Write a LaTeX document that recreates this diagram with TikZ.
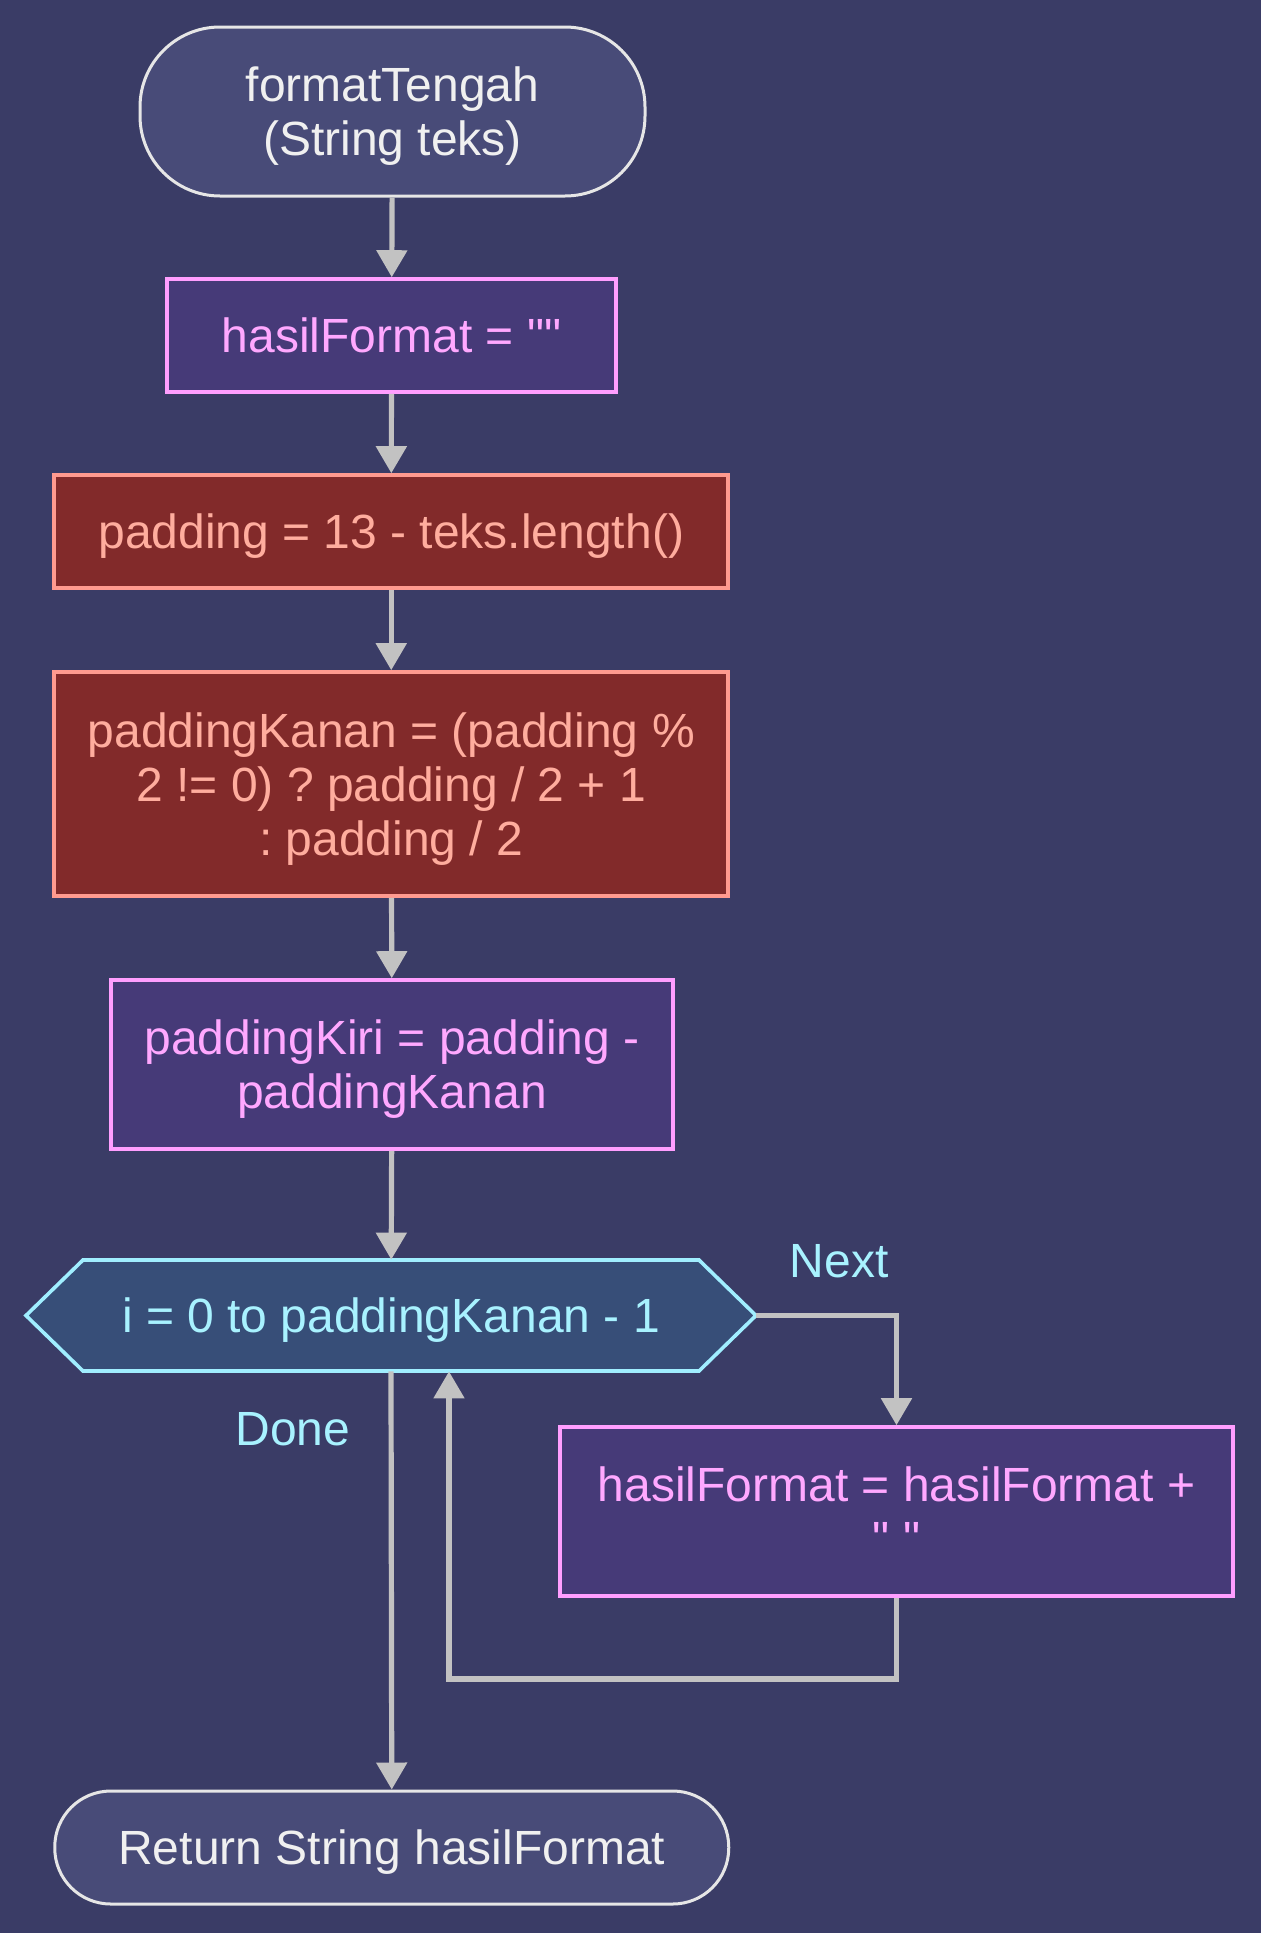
\documentclass[tikz,border=0pt]{standalone}
\usepackage{fontspec}
\setmainfont{Liberation Sans}[Ligatures=TeXOff]
\usetikzlibrary{arrows.meta}
\definecolor{bgc}{HTML}{3A3C66}
\definecolor{termfill}{HTML}{484B78}
\definecolor{termdraw}{HTML}{E6E6E6}
\definecolor{termtext}{HTML}{F0F0F0}
\definecolor{procfill}{HTML}{463A78}
\definecolor{procdraw}{HTML}{FF9EFF}
\definecolor{proctext}{HTML}{FFA8FF}
\definecolor{redfill}{HTML}{822A2A}
\definecolor{reddraw}{HTML}{FF9A8F}
\definecolor{redtext}{HTML}{FFAD9E}
\definecolor{hexfill}{HTML}{374E78}
\definecolor{hexdraw}{HTML}{A0EEFF}
\definecolor{hextext}{HTML}{A8F2FF}
\definecolor{arrowc}{HTML}{C2C2C2}
\begin{document}
\frenchspacing
\begin{tikzpicture}[x=0.5pt,y=-0.5pt,
  every node/.style={font=\fontsize{24pt}{27pt}\selectfont\frenchspacing, align=center, inner sep=0pt, text depth=0pt},
  term/.style={draw=termdraw, fill=termfill, text=termtext, line width=1.5pt, rounded corners=40pt},
  proc/.style={draw=procdraw, fill=procfill, text=proctext, line width=1.8pt},
  redbox/.style={draw=reddraw, fill=redfill, text=redtext, line width=1.8pt},
  flow/.style={draw=arrowc, line width=2.6pt, -{Triangle[width=15pt,length=13.5pt]}},
  lbl/.style={text=hextext}
]
\fill[bgc] (0,0) rectangle (1261,1933);
\useasboundingbox (0,0) rectangle (1261,1933);

\node[term, minimum width=252.5pt, minimum height=84.5pt] (start) at (392.5,111.5) {formatTengah\\(String teks)};
\node[proc, minimum width=224.5pt, minimum height=56.5pt] (init) at (391.5,335.5) {hasilFormat = ""};
\node[redbox, minimum width=337pt, minimum height=56.5pt] (pad) at (391.25,531.5) {padding = 13 - teks.length()};
\node[redbox, minimum width=337pt, minimum height=112pt] (kanan) at (391.25,784) {paddingKanan = (padding \%\\2 != 0) ? padding / 2 + 1\\: padding / 2};
\node[proc, minimum width=281pt, minimum height=84.5pt] (kiri) at (392,1064.5) {paddingKiri = padding -\\paddingKanan};

% hexagon loop node
\filldraw[draw=hexdraw, fill=hexfill, line width=1.8pt] (26,1315.5) -- (83,1260) -- (699,1260) -- (756,1315.5) -- (699,1371) -- (83,1371) -- cycle;
\node[text=hextext, minimum width=365pt, minimum height=55.5pt] (hex) at (391,1315.5) {i = 0 to paddingKanan - 1};
\coordinate (hexR) at (756,1315.5);

\node[proc, minimum width=336.5pt, minimum height=84.5pt] (loop) at (896.5,1511.5) {hasilFormat = hasilFormat +\\" "};
\node[term, rounded corners=28pt, minimum width=337pt, minimum height=56.5pt] (ret) at (391.75,1847.5) {Return String hasilFormat};

\draw[flow] (start) -- (init);
\draw[flow] (init) -- (pad);
\draw[flow] (pad) -- (kanan);
\draw[flow] (kanan) -- (kiri);
\draw[flow] (kiri) -- (hex);
\draw[flow] (hexR) -| (loop.north);
\coordinate (back) at (449,1679);
\draw[flow] (loop.south) |- (back) -- (back |- hex.south);
\draw[flow] (hex.south) -- (ret.north);

\node[lbl] (next) at (839,1261) {Next};
\node[lbl] (done) at (293,1429) {Done};
\end{tikzpicture}
\end{document}
